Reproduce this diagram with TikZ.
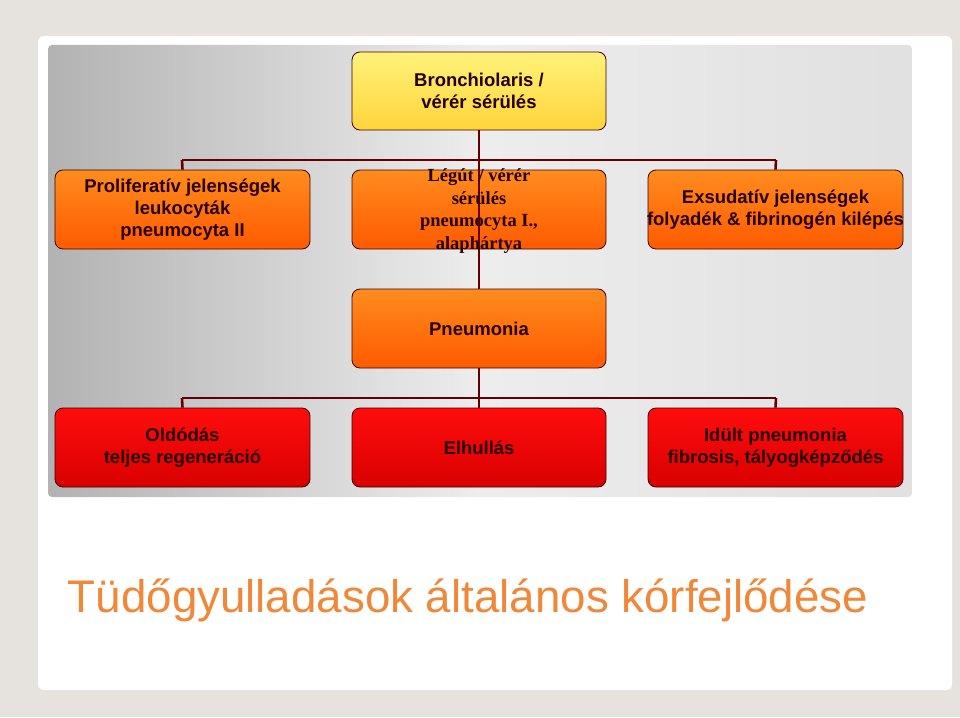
\documentclass[tikz,border=0pt]{standalone}
\usepackage{fontspec}
\setmainfont{Liberation Sans}
\newfontfamily\serifb{Liberation Serif}
\definecolor{titleor}{HTML}{F0883A}
\definecolor{yeltop}{HTML}{FFF27A}
\definecolor{yelbot}{HTML}{FFD43A}
\definecolor{ortop}{HTML}{FF8C1E}
\definecolor{orbot}{HTML}{FF5A00}
\definecolor{outerbg}{HTML}{E6E3DF}
\begin{document}
\begin{tikzpicture}[x=1pt,y=-1pt,
  box/.style={draw=black!60!red!60!black,line width=0.8pt,rounded corners=8pt},
  yel/.style={box,top color=yeltop,bottom color=yelbot},
  org/.style={box,top color=ortop,bottom color=orbot},
  rd/.style={box,top color=red!95!white,bottom color=red!85!black},
  txt/.style={align=center,font=\bfseries\fontsize{18.5}{22}\selectfont,text=black!85!red},
  conn/.style={draw=red!40!black,line width=2.6pt}]
\useasboundingbox (0,0) rectangle (960,717);
\fill[outerbg] (0,0) rectangle (960,717);
\fill[white,rounded corners=6pt] (38,36) rectangle (952,690);
\shade[left color=black!30,right color=black!12,middle color=black!7,rounded corners=4pt] (48,45) rectangle (912,497);
\coordinate (h1) at (479,160); \coordinate (h1l) at (182,160); \coordinate (h1r) at (776,160);
\coordinate (h2) at (479,398); \coordinate (h2l) at (182,398); \coordinate (h2r) at (776,398);
\node[yel,minimum width=254pt,minimum height=78pt] (top) at (479,91) {};
\node[org,minimum width=255pt,minimum height=79pt] (l2) at (182.5,209.5) {};
\node[org,minimum width=254pt,minimum height=79pt] (m2) at (479,209.5) {};
\node[org,minimum width=255pt,minimum height=79pt] (r2) at (775.5,209.5) {};
\node[org,minimum width=254pt,minimum height=79pt] (pn) at (479,328.5) {};
\node[rd,minimum width=255pt,minimum height=79pt] (l4) at (182.5,447.5) {};
\node[rd,minimum width=254pt,minimum height=79pt] (m4) at (479,447.5) {};
\node[rd,minimum width=255pt,minimum height=79pt] (r4) at (775.5,447.5) {};
\draw[conn] (top.south) -- (h1);
\draw[conn] (h1l) -- (h1r);
\draw[conn] (h1l) -- (l2.north);
\draw[conn] (h1r) -- (r2.north);
\draw[conn] (h1) -- (pn.north);
\draw[conn] (pn.south) -- (h2);
\draw[conn] (h2l) -- (h2r);
\draw[conn] (h2l) -- (l4.north);
\draw[conn] (h2) -- (m4.north);
\draw[conn] (h2r) -- (r4.north);
\node[txt] at (top) {Bronchiolaris /\\vérér sérülés};
\node[txt] at (l2) {Proliferatív jelenségek\\leukocyták\\pneumocyta II};
\node[txt,font=\serifb\bfseries\fontsize{18.5}{22.5}\selectfont] at (479,211) {Légút / vérér\\sérülés\\pneumocyta I.,\\alaphártya};
\node[txt] at (r2) {Exsudatív jelenségek\\folyadék \& fibrinogén kilépés};
\node[txt] at (pn) {Pneumonia};
\node[txt] at (l4) {Oldódás\\teljes regeneráció};
\node[txt] at (m4) {Elhullás};
\node[txt] at (r4) {Idült pneumonia\\fibrosis, tályogképződés};
\node[text=titleor,font=\fontsize{45.7}{50}\selectfont] (title) at (468,600) {Tüdőgyulladások általános kórfejlődése};
\end{tikzpicture}
\end{document}
